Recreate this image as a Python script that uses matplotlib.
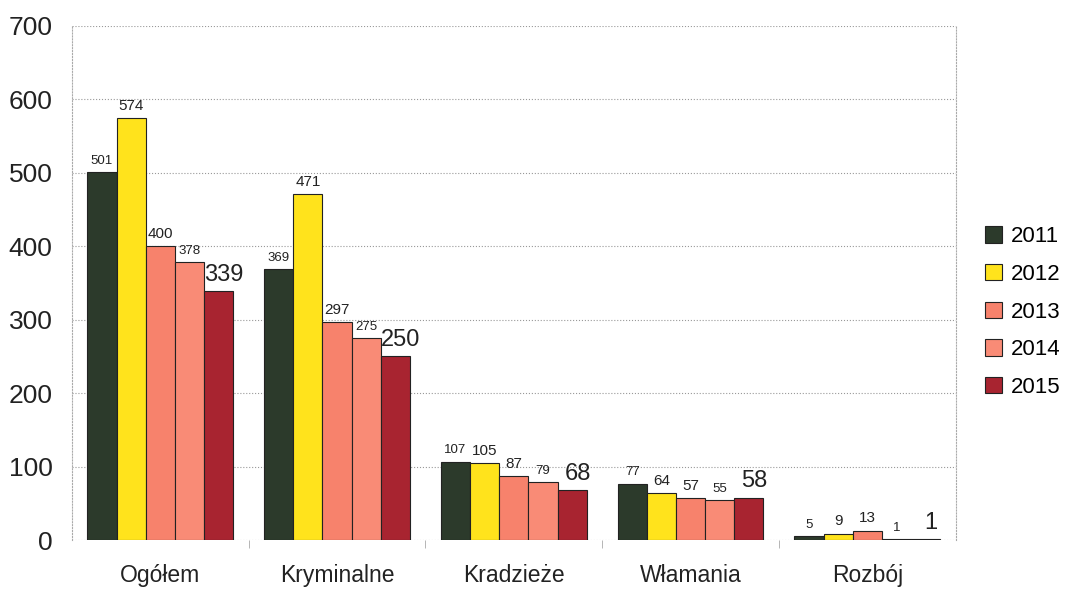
import matplotlib
matplotlib.use('Agg')
import matplotlib.pyplot as plt
import numpy as np

# dane
categories = ["Ogółem", "Kryminalne", "Kradzieże", "Włamania", "Rozbój"]
years = ["2011", "2012", "2013", "2014", "2015"]
v2011 = [501, 369, 107, 77, 5]
v2012 = [574, 471, 105, 64, 9]
v2013 = [400, 297, 87, 57, 13]
v2014 = [378, 275, 79, 55, 1]
v2015 = [339, 250, 68, 58, 1]
series = [v2011, v2012, v2013, v2014, v2015]

colors = ["#2c3a2b", "#ffe31c", "#f7826c", "#f98b76", "#a82430"]
label_sizes = [9.5, 11, 11, 9.5, 17]

plt.rcParams['font.family'] = ['Liberation Sans', 'DejaVu Sans']

fig = plt.figure(figsize=(10.66, 5.89), dpi=100)
ax = fig.add_axes([0.0675, 0.083, 0.829, 0.873])

x = np.arange(len(categories))
w = 0.165
for i, (vals, c) in enumerate(zip(series, colors)):
    pos = x + (i - 2) * w
    bars = ax.bar(pos, vals, width=w, color=c, edgecolor="#222222", linewidth=0.8,
                  label=years[i], zorder=3)
    for b, v in zip(bars, vals):
        ax.text(b.get_x() + b.get_width() / 2 + (0.03 if i == 4 else 0),
                v + 7, str(v), ha='center', va='bottom',
                fontsize=label_sizes[i], color="#222222", zorder=4)

ax.set_xlim(-0.5, len(categories) - 0.5)
ax.set_ylim(0, 700)
ax.set_yticks(range(0, 701, 100))
ax.set_xticks(x)
ax.set_xticklabels(categories, fontsize=16.5, color="#222222")
ax.tick_params(axis='y', labelsize=19, colors="#222222", length=0, pad=14)
ax.tick_params(axis='x', length=0, pad=17)
ax.set_xticks(np.arange(0.5, len(categories) - 0.5, 1), minor=True)
ax.tick_params(axis='x', which='minor', length=6, color="#aaaaaa", direction='out')

ax.grid(axis='y', linestyle=':', color="#999999", linewidth=0.8, zorder=0)
for s in ['top', 'bottom']:
    ax.spines[s].set_visible(False)
for s in ['left', 'right']:
    ax.spines[s].set_linestyle(':')
    ax.spines[s].set_color("#aaaaaa")
    ax.spines[s].set_linewidth(0.8)

fig.legend(loc='center left', bbox_to_anchor=(0.92, 0.47), frameon=False,
           fontsize=16, handlelength=0.75, handleheight=0.75, labelspacing=0.75,
           handletextpad=0.4, borderaxespad=0, borderpad=0.2)

fig.savefig("out.png", dpi=100)
